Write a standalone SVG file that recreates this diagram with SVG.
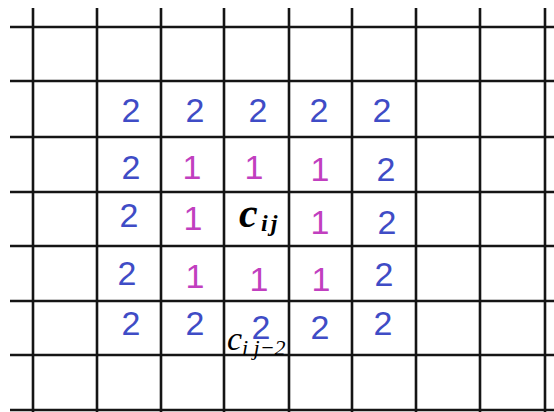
<svg xmlns="http://www.w3.org/2000/svg" width="554" height="412" viewBox="0 0 554 412">
<style>
.g line{stroke:#151515;stroke-width:2.6}
.d{font-family:"Liberation Sans",Arial,sans-serif;font-size:34px;text-anchor:middle}
.b{fill:#3f4cc6}
.m{fill:#c13fbf}
.c{font-family:"Liberation Serif","DejaVu Serif",serif;font-style:italic;fill:#000}
</style>
<rect width="554" height="412" fill="#fff"/>
<g id="grid" class="g">
<line x1="33" y1="8" x2="33" y2="412"/>
<line x1="97" y1="8" x2="97" y2="412"/>
<line x1="161" y1="8" x2="161" y2="412"/>
<line x1="224" y1="8" x2="224" y2="412"/>
<line x1="289" y1="8" x2="289" y2="412"/>
<line x1="352" y1="8" x2="352" y2="412"/>
<line x1="416" y1="8" x2="416" y2="412"/>
<line x1="480" y1="8" x2="480" y2="412"/>
<line x1="545" y1="8" x2="545" y2="412"/>
<line x1="10" y1="27" x2="554" y2="27"/>
<line x1="10" y1="81" x2="554" y2="81"/>
<line x1="10" y1="137" x2="554" y2="137"/>
<line x1="10" y1="192" x2="554" y2="192"/>
<line x1="10" y1="246" x2="554" y2="246"/>
<line x1="10" y1="301" x2="554" y2="301"/>
<line x1="10" y1="355" x2="554" y2="355"/>
<line x1="10" y1="410" x2="554" y2="410"/>
</g>
<g id="row1" class="d b">
<text x="131" y="122">2</text>
<text x="195" y="122">2</text>
<text x="258" y="122">2</text>
<text x="319" y="122">2</text>
<text x="382" y="122">2</text>
</g>
<g id="row2" class="d">
<text class="b" x="131" y="179">2</text>
<text class="m" x="192" y="179">1</text>
<text class="m" x="254" y="179">1</text>
<text class="m" x="320" y="181">1</text>
<text class="b" x="386" y="181">2</text>
</g>
<g id="row3" class="d">
<text class="b" x="129" y="227">2</text>
<text class="m" x="193" y="230">1</text>
<text class="m" x="320" y="234">1</text>
<text class="b" x="387" y="234">2</text>
</g>
<g id="cij" class="c" font-weight="bold">
<text x="239" y="227" font-size="42">c</text>
<text x="261" y="231" font-size="24" letter-spacing="3">ij</text>
</g>
<g id="row4" class="d">
<text class="b" x="127" y="285">2</text>
<text class="m" x="195" y="288">1</text>
<text class="m" x="259" y="291">1</text>
<text class="m" x="321" y="291">1</text>
<text class="b" x="384" y="286">2</text>
</g>
<g id="row5" class="d b">
<text x="131" y="335">2</text>
<text x="195" y="335">2</text>
<text x="261" y="339">2</text>
<text x="320" y="339">2</text>
<text x="383" y="335">2</text>
</g>
<g id="cij2" class="c">
<text x="227" y="350" font-size="34">c</text>
<text x="242" y="355" font-size="22">i j−2</text>
</g>
</svg>
